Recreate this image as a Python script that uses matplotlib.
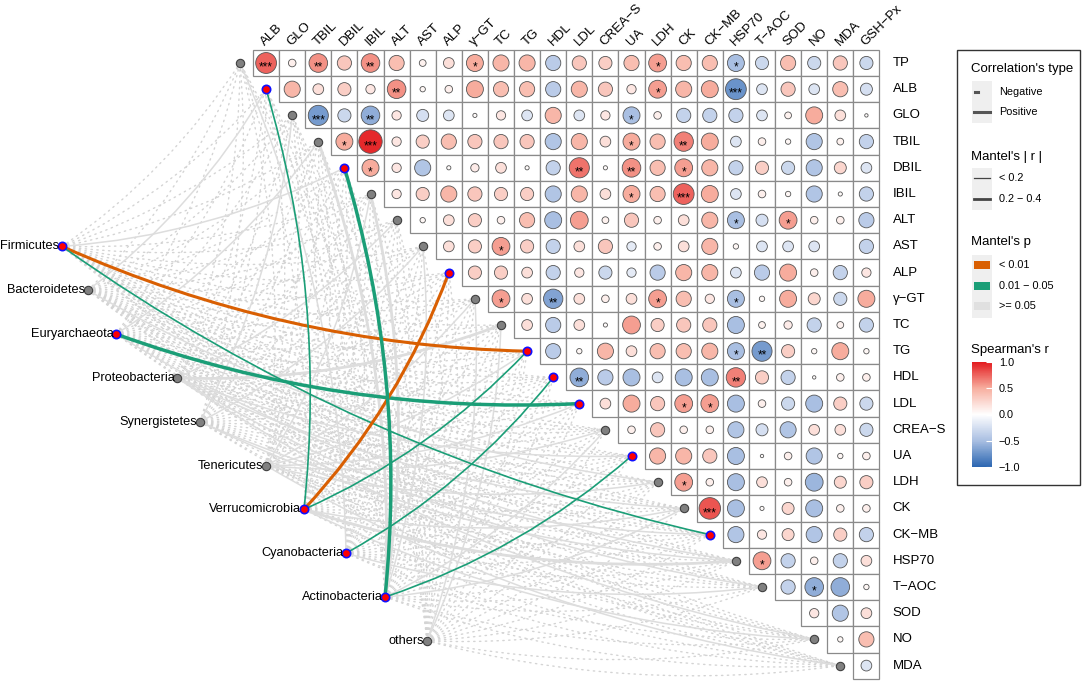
'''
Mantel test links between phyla and serum indices, with the Spearman
correlation matrix of the indices drawn as an upper-triangle heatmap.
'''
import matplotlib.pyplot as plt
import numpy as np
from matplotlib.colors import LinearSegmentedColormap, Normalize
from matplotlib.patches import Rectangle, Circle, PathPatch
from matplotlib.path import Path
from matplotlib.lines import Line2D
import matplotlib.cm as cm

plt.rcParams['font.family'] = ['Liberation Sans', 'DejaVu Sans']

# ---- data ----
env = ['TP', 'ALB', 'GLO', 'TBIL', 'DBIL', 'IBIL', 'ALT', 'AST', 'ALP', 'γ−GT',
       'TC', 'TG', 'HDL', 'LDL', 'CREA−S', 'UA', 'LDH', 'CK', 'CK−MB', 'HSP70',
       'T−AOC', 'SOD', 'NO', 'MDA', 'GSH−Px']

# Spearman's r, row i holds columns i+1 .. GSH-Px
spearman_r = [
    [0.75, 0.1, 0.6, 0.35, 0.6, 0.4, 0.08, 0.2, 0.5, 0.45, 0.45, -0.4, 0.35, 0.3, 0.4, 0.55, 0.4, 0.4, -0.5, -0.3, 0.4, -0.3, 0.35, -0.3],
    [0.45, 0.2, 0.3, 0.15, 0.6, 0.05, 0.1, 0.5, 0.4, 0.4, -0.4, 0.45, 0.35, 0.15, 0.55, 0.45, 0.5, -0.75, -0.2, 0.35, -0.2, 0.4, -0.25],
    [-0.7, -0.3, -0.6, 0.15, -0.25, -0.2, 0.03, 0.15, -0.2, 0.45, -0.2, 0.15, -0.5, 0.1, -0.35, -0.35, -0.35, -0.2, 0.08, 0.5, 0.2, 0.02],
    [0.5, 0.95, 0.15, 0.3, 0.4, 0.35, 0.35, 0.35, -0.45, 0.45, 0.2, 0.5, 0.4, 0.65, 0.5, -0.2, 0.1, 0.05, -0.45, 0.08, -0.35],
    [0.5, 0.15, -0.45, 0.03, 0.12, 0.2, 0.03, -0.35, 0.7, 0.03, 0.6, 0.4, 0.55, 0.45, -0.35, 0.3, -0.3, -0.45, 0.25, -0.2],
    [0.15, 0.3, 0.45, 0.35, 0.3, 0.3, -0.45, 0.45, 0.2, 0.5, 0.4, 0.75, 0.5, -0.2, 0.1, 0.05, -0.45, 0.03, -0.35],
    [0.05, 0.2, 0.3, 0.1, 0.4, -0.5, 0.55, 0.08, 0.35, 0.1, 0.2, 0.45, -0.5, -0.25, 0.55, 0.1, 0.1, -0.4],
    [0.2, 0.3, 0.55, 0.3, -0.35, 0.2, 0.35, -0.15, 0.1, 0.2, 0.45, 0.05, -0.2, -0.2, -0.2, np.nan, -0.35],
    [0.3, 0.3, 0.2, -0.35, 0.15, -0.3, -0.15, -0.4, 0.45, 0.45, -0.2, -0.4, 0.5, 0.1, -0.35, 0.15],
    [0.55, 0.2, -0.65, 0.2, 0.1, 0.2, 0.55, 0.4, 0.15, -0.5, 0.05, 0.5, 0.25, -0.3, 0.5],
    [0.2, -0.4, 0.2, 0.03, 0.55, 0.3, 0.35, 0.35, -0.5, 0.08, 0.12, -0.35, 0.08, -0.35],
    [-0.4, 0.05, 0.45, 0.2, 0.4, 0.4, 0.45, -0.5, -0.7, 0.3, 0.05, 0.5, 0.05],
    [-0.6, -0.4, -0.5, -0.2, -0.5, -0.5, 0.65, 0.3, -0.35, 0.02, 0.1, 0.1],
    [0.2, 0.5, 0.35, 0.55, 0.55, -0.5, 0.1, -0.3, -0.5, 0.3, -0.3],
    [0.1, 0.35, 0.1, 0.1, -0.45, -0.25, -0.45, 0.2, 0.2, -0.3],
    [0.45, 0.45, 0.35, -0.5, 0.02, 0.1, -0.45, 0.05, 0.1],
    [0.55, 0.1, -0.5, 0.2, 0.1, -0.55, 0.25, 0.3],
    [0.8, -0.5, 0.03, 0.25, -0.5, 0.1, 0.1],
    [-0.45, 0.15, 0.25, -0.45, 0.3, -0.35],
    [0.55, -0.35, 0.1, -0.35, 0.2],
    [-0.35, -0.6, -0.6, 0.05],
    [0.15, -0.45, 0.2],
    [0.05, 0.4],
    [-0.2],
]

stars = {
    ('TP', 'ALB'): '***', ('TP', 'TBIL'): '**', ('TP', 'IBIL'): '**', ('TP', 'γ−GT'): '*',
    ('TP', 'LDH'): '*', ('TP', 'HSP70'): '*',
    ('ALB', 'ALT'): '**', ('ALB', 'LDH'): '*', ('ALB', 'HSP70'): '***',
    ('GLO', 'TBIL'): '***', ('GLO', 'IBIL'): '**', ('GLO', 'UA'): '*',
    ('TBIL', 'DBIL'): '*', ('TBIL', 'IBIL'): '***', ('TBIL', 'UA'): '*', ('TBIL', 'CK'): '**',
    ('DBIL', 'IBIL'): '*', ('DBIL', 'LDL'): '**', ('DBIL', 'UA'): '**', ('DBIL', 'CK'): '*',
    ('IBIL', 'UA'): '*', ('IBIL', 'CK'): '***',
    ('ALT', 'HSP70'): '*', ('ALT', 'SOD'): '*',
    ('AST', 'TC'): '*',
    ('γ−GT', 'TC'): '*', ('γ−GT', 'HDL'): '**', ('γ−GT', 'LDH'): '*', ('γ−GT', 'HSP70'): '*',
    ('TG', 'HSP70'): '*', ('TG', 'T−AOC'): '**',
    ('HDL', 'LDL'): '**', ('HDL', 'HSP70'): '**',
    ('LDL', 'CK'): '*', ('LDL', 'CK−MB'): '*',
    ('LDH', 'CK'): '*', ('CK', 'CK−MB'): '***',
    ('HSP70', 'T−AOC'): '*', ('T−AOC', 'NO'): '*',
}

taxa = ['Firmicutes', 'Bacteroidetes', 'Euryarchaeota', 'Proteobacteria', 'Synergistetes',
        'Tenericutes', 'Verrucomicrobia', 'Cyanobacteria', 'Actinobacteria', 'others']

# env variables that have a Mantel node (SOD and GSH-Px have none)
mantel_env = [e for e in env[:24] if e != 'SOD']

# link class per taxon/variable: n = negative (dotted), p/P = positive thin/thick,
# g/G = p 0.01-0.05 thin/thick, O = p < 0.01 thick; anything not listed is 'n'
mantel_links = {
    'Firmicutes': {'DBIL': 'p', 'TG': 'O', 'CK−MB': 'g'},
    'Bacteroidetes': {'ALB': 'p', 'LDH': 'p'},
    'Euryarchaeota': {'TBIL': 'p', 'LDL': 'G', 'HSP70': 'p'},
    'Proteobacteria': {'ALT': 'p', 'TC': 'P', 'UA': 'p', 'CK': 'p', 'T−AOC': 'p', 'NO': 'p'},
    'Synergistetes': {'GLO': 'p', 'AST': 'p', 'CK−MB': 'p', 'HSP70': 'p'},
    'Tenericutes': {'IBIL': 'p', 'γ−GT': 'p', 'TG': 'p', 'LDL': 'p', 'CREA−S': 'p', 'LDH': 'p', 'MDA': 'p'},
    'Verrucomicrobia': {'ALB': 'g', 'ALP': 'O', 'TG': 'g', 'CK': 'p', 'HSP70': 'P', 'NO': 'p'},
    'Cyanobacteria': {'TP': 'p', 'HDL': 'g', 'T−AOC': 'p'},
    'Actinobacteria': {'TBIL': 'P', 'DBIL': 'G', 'IBIL': 'P', 'AST': 'p', 'CREA−S': 'p', 'UA': 'g', 'CK': 'p'},
    'others': {'γ−GT': 'p', 'TC': 'p'},
}

# ---- layout ----
W, H = 1084, 683
cw, ch = 26.1, 26.2          # cell size in pixels
ox, oy = 240, 63             # pixel position of the TP diagonal
taxa_px_x = [62, 88, 116, 177, 200, 266, 304, 346, 385, 427]
taxa_row0, taxa_step = 7.0, 1.673

fig = plt.figure(figsize=(W / 100, H / 100), dpi=100)
ax = fig.add_axes([0, 0, 1, 1])
ax.set_xlim(-ox / cw, (W - ox) / cw)
ax.set_ylim((H - oy) / ch, -oy / ch)
ax.axis('off')

cmap = LinearSegmentedColormap.from_list(
    'rb', [(0, '#2B66B1'), (0.25, '#A9BFE2'), (0.5, '#FFFFFF'), (0.75, '#F7AE9F'), (1, '#E31B1F')])
norm = Normalize(-1, 1)

# heatmap
for i, row in enumerate(spearman_r):
    for k, r in enumerate(row):
        j = i + 1 + k
        ax.add_patch(Rectangle((j - 0.5, i - 0.5), 1, 1, fc='white', ec='#8a8a8a', lw=0.9, zorder=4))
        if np.isnan(r):
            continue
        ax.add_patch(Circle((j, i), 0.46 * np.sqrt(abs(r)), fc=cmap(norm(r)), ec='#555555',
                            lw=0.6, zorder=5))
        s = stars.get((env[i], env[j]))
        if s:
            ax.text(j, i + 0.18, s, ha='center', va='center', fontsize=8.5, zorder=6)

for j in range(1, 25):
    ax.text(j + 0.05, -0.58, env[j], rotation=45, rotation_mode='anchor', ha='left',
            va='bottom', fontsize=9.5)
for i in range(24):
    ax.text(25.0, i, env[i], ha='left', va='center', fontsize=9.5)

# Mantel links
styles = {
    'n': dict(color='#D4D4D4', lw=1.0, ls=(0, (1, 3.2)), z=1),
    'p': dict(color='#DDDDDD', lw=1.1, ls='-', z=2),
    'P': dict(color='#DDDDDD', lw=2.0, ls='-', z=2),
    'g': dict(color='#1B9E77', lw=1.2, ls='-', z=3),
    'G': dict(color='#1B9E77', lw=2.5, ls='-', z=3),
    'O': dict(color='#D95F02', lw=2.2, ls='-', z=3),
}


def curve(p0, p1, st):
    (xa, ya), (xb, yb) = p0, p1
    dx, dy = xb - xa, yb - ya
    c = ((xa + xb) / 2 - 0.1 * dy, (ya + yb) / 2 + 0.1 * dx)
    path = Path([p0, c, p1], [Path.MOVETO, Path.CURVE3, Path.CURVE3])
    ax.add_patch(PathPatch(path, fc='none', ec=st['color'], lw=st['lw'], ls=st['ls'],
                           zorder=st['z'], capstyle='round'))


taxa_pos = {}
for k, t in enumerate(taxa):
    taxa_pos[t] = ((taxa_px_x[k] - ox) / cw, taxa_row0 + k * taxa_step)

env_sig = set()
taxa_sig = set()
for t in taxa:
    for e in mantel_env:
        code = mantel_links[t].get(e, 'n')
        i = env.index(e)
        curve(taxa_pos[t], (i, i), styles[code])
        if code in 'gGO':
            env_sig.add(e)
            taxa_sig.add(t)


def node(x, y, sig):
    if sig:
        ax.scatter([x], [y], s=36, fc='#FF0000', ec='#1010FF', lw=1.2, zorder=7)
    else:
        ax.scatter([x], [y], s=36, fc='#808080', ec='#404040', lw=0.8, zorder=7)


for e in mantel_env:
    i = env.index(e)
    node(i, i, e in env_sig)
for t in taxa:
    x, y = taxa_pos[t]
    node(x, y, t in taxa_sig)
    ax.text(x - 0.1, y, t, ha='right', va='center', fontsize=9.2, zorder=7)

# ---- legend ----


def fx(p):
    return p / W


def fy(p):
    return 1 - p / H


fig.add_artist(Rectangle((fx(957), fy(485)), fx(1080) - fx(957), fy(50) - fy(485),
                         transform=fig.transFigure, fill=False, ec='#333333', lw=1.0))
tfs, lfs = 9.5, 7.8
fig.text(fx(971), fy(69), "Correlation's type", fontsize=tfs, va='center')
fig.text(fx(971), fy(157), "Mantel's | r |", fontsize=tfs, va='center')
fig.text(fx(971), fy(242), "Mantel's p", fontsize=tfs, va='center')
fig.text(fx(971), fy(350), "Spearman's r", fontsize=tfs, va='center')

for top, n in [(81, 2), (168, 2), (255, 3)]:
    fig.add_artist(Rectangle((fx(972), fy(top + 21 * n)), fx(992) - fx(972), fy(top) - fy(top + 21 * n),
                             transform=fig.transFigure, fc='#EFEFEF', ec='none'))

fig.add_artist(Line2D([fx(975), fx(978)], [fy(92), fy(92)], transform=fig.transFigure,
                      color='#555555', lw=2.2))
fig.add_artist(Line2D([fx(974), fx(990)], [fy(112), fy(112)], transform=fig.transFigure,
                      color='#555555', lw=2.2))
fig.text(fx(999), fy(92), 'Negative', fontsize=lfs, va='center')
fig.text(fx(999), fy(112), 'Positive', fontsize=lfs, va='center')

fig.add_artist(Line2D([fx(974), fx(990)], [fy(178), fy(178)], transform=fig.transFigure,
                      color='#444444', lw=0.9))
fig.add_artist(Line2D([fx(974), fx(990)], [fy(199), fy(199)], transform=fig.transFigure,
                      color='#444444', lw=2.0))
fig.text(fx(999), fy(178), '< 0.2', fontsize=lfs, va='center')
fig.text(fx(999), fy(199), '0.2 − 0.4', fontsize=lfs, va='center')

for y, col, lab in [(265, '#D95F02', '< 0.01'), (286, '#1B9E77', '0.01 − 0.05'),
                    (306, '#E0E0E0', '>= 0.05')]:
    fig.add_artist(Rectangle((fx(974), fy(y + 4)), fx(990) - fx(974), fy(y - 4) - fy(y + 4),
                             transform=fig.transFigure, fc=col, ec='none'))
    fig.text(fx(999), fy(y), lab, fontsize=lfs, va='center')

cax = fig.add_axes([fx(972), fy(467), fx(992) - fx(972), fy(362) - fy(467)])
cb = fig.colorbar(cm.ScalarMappable(norm=norm, cmap=cmap), cax=cax, ticks=[-1, -0.5, 0, 0.5, 1])
cb.outline.set_visible(False)
cb.ax.set_yticklabels(['−1.0', '−0.5', '0.0', '0.5', '1.0'])
cb.ax.tick_params(direction='in', color='white', length=4, width=0.8, labelsize=lfs, pad=5)

plt.savefig('out.png', dpi=100)
